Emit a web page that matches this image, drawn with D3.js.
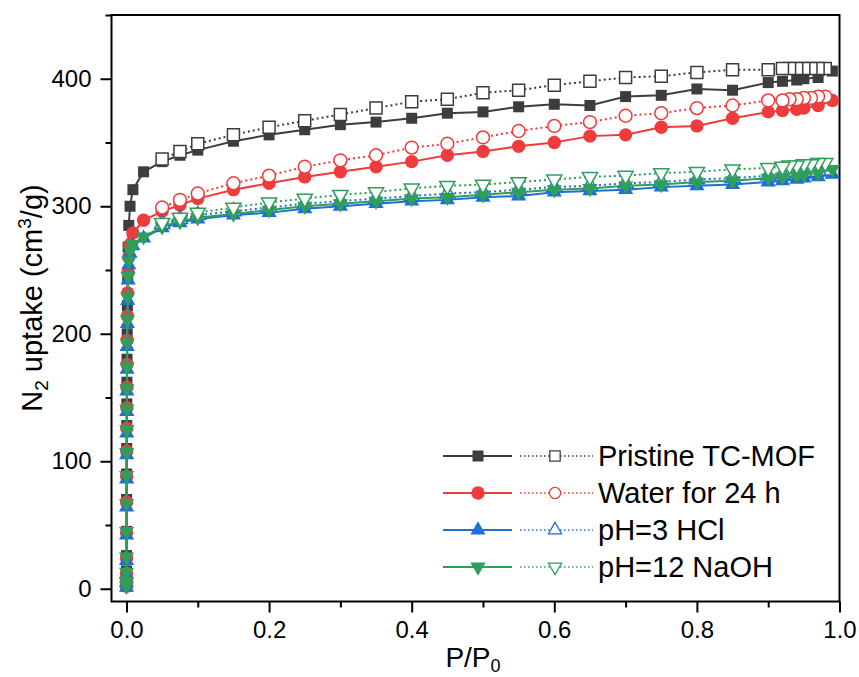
<!DOCTYPE html>
<html>
<head>
<meta charset="utf-8">
<script src="https://cdn.jsdelivr.net/npm/d3@7"></script>
<style>
  body { margin: 0; background: #fff; }
  text { font-family: "Liberation Sans", Arial, sans-serif; fill: #000; }
</style>
</head>
<body>
<div id="root"></div>
<script>
// relative pressure for adsorption (filled) and desorption (open) points
var adsP = [0.00001, 0.00002, 0.00004, 0.00006, 0.0001, 0.00015, 0.0002, 0.0003, 0.0004, 0.0005,
  0.0006, 0.0008, 0.001, 0.0013, 0.0017, 0.0023, 0.0032, 0.005, 0.009, 0.024,
  0.05, 0.075, 0.1, 0.15, 0.2, 0.25, 0.3, 0.35, 0.4, 0.45, 0.5, 0.55, 0.6, 0.65,
  0.7, 0.75, 0.8, 0.85, 0.9, 0.92, 0.94, 0.95, 0.97, 0.99];
var desP = [0.98, 0.97, 0.96, 0.95, 0.94, 0.93, 0.92, 0.9, 0.85, 0.8, 0.75, 0.7, 0.65,
  0.6, 0.55, 0.5, 0.45, 0.4, 0.35, 0.3, 0.25, 0.2, 0.15, 0.1, 0.075, 0.05];

var pristineAds = [2, 6, 14, 26, 45, 70, 90, 110, 128, 145, 162, 180, 200, 222, 245, 268, 285, 300, 313, 327,
  335, 340, 344, 351, 356, 360, 364, 366, 369, 373, 374, 378, 380, 379, 386, 387, 392, 391, 397, 398, 399, 400, 401, 406];
var pristineDes = [408, 408, 408, 408, 408, 408, 408, 407, 407, 405, 402, 401, 398,
  395, 391, 389, 384, 382, 377, 372, 367, 362, 356, 349, 343, 337];

var waterAds = [2, 6, 12, 24, 44, 68, 88, 108, 126, 142, 158, 176, 195, 214, 232, 248, 260, 270, 279, 289,
  296, 301, 306, 313, 318, 323, 327, 331, 335, 340, 343, 347, 350, 355, 356, 362, 363, 369, 374, 375, 376, 377, 379, 383];
var waterDes = [386, 386, 385, 385, 384, 384, 383, 383, 379, 377, 373, 371, 366,
  363, 359, 354, 349, 346, 340, 336, 331, 324, 318, 310, 305, 299];

var hclAds = [1, 5, 11, 22, 42, 64, 86, 105, 122, 139, 155, 172, 190, 208, 226, 242, 254, 263, 269, 275,
  283, 287, 290, 293, 295, 298, 300, 302, 304, 305, 307, 308, 311, 312, 313, 315, 316, 317, 319, 320, 321, 322, 323, 325];
var hclDes = [328, 328, 327, 327, 326, 326, 325, 324, 322, 321, 319, 318, 316,
  315, 313, 311, 310, 308, 306, 304, 302, 299, 296, 293, 290, 286];

var naohAds = [2, 6, 13, 25, 45, 67, 89, 107, 125, 141, 157, 174, 193, 211, 229, 245, 257, 265, 270, 276,
  284, 288, 291, 294, 297, 300, 302, 304, 306, 307, 309, 311, 313, 314, 316, 317, 319, 320, 322, 323, 324, 325, 326, 329];
var naohDes = [334, 334, 333, 333, 332, 332, 331, 330, 329, 327, 326, 324, 323,
  321, 319, 317, 316, 314, 311, 309, 306, 303, 299, 295, 291, 287];

var seriesNames = ['Pristine TC-MOF', 'Water for 24 h', 'pH=3 HCl', 'pH=12 NaOH'];
var xMajorTicks = [0, 0.2, 0.4, 0.6, 0.8, 1.0];
var xMinorTicks = [0.1, 0.3, 0.5, 0.7, 0.9];
var yMajorTicks = [0, 100, 200, 300, 400];
var yMinorTicks = [50, 150, 250, 350, 450];

var series = [
  { name: seriesNames[0], ads: pristineAds, des: pristineDes, color: '#3d3d3d', shape: d3.symbolSquare, rot: 0, fillSize: 121, openSize: 144 },
  { name: seriesNames[1], ads: waterAds, des: waterDes, color: '#ef3b3b', shape: d3.symbolCircle, rot: 0, fillSize: 140, openSize: 130 },
  { name: seriesNames[2], ads: hclAds, des: hclDes, color: '#1f6fd6', shape: d3.symbolTriangle, rot: 0, fillSize: 100, openSize: 100 },
  { name: seriesNames[3], ads: naohAds, des: naohDes, color: '#2f9e5a', shape: d3.symbolTriangle, rot: 180, fillSize: 100, openSize: 100 }
];

var margin = { top: 15, right: 19.5, bottom: 75.5, left: 111.5 },
  width = 859 - margin.left - margin.right,
  height = 677 - margin.top - margin.bottom;

var svg = d3.select('#root')
  .append('svg')
    .attr('width', 859)
    .attr('height', 677);

var g = svg.append('g')
  .attr('transform', 'translate(' + margin.left + ', ' + margin.top + ')');

var xScale = d3.scaleLinear()
  .domain([-0.021, 1.0])
  .range([0, width]);

var yScale = d3.scaleLinear()
  .domain([-10, 450])
  .range([height, 0]);

// axes
var xAxisCall = d3.axisBottom(xScale)
  .tickValues(xMajorTicks)
  .tickFormat(d3.format('.1f'))
  .tickSize(11)
  .tickPadding(8);

g.append('g')
  .attr('transform', 'translate(0, ' + height + ')')
  .call(xAxisCall);

g.append('g')
  .attr('transform', 'translate(0, ' + height + ')')
  .call(d3.axisBottom(xScale).tickValues(xMinorTicks).tickSize(6).tickFormat(''));

var yAxisCall = d3.axisLeft(yScale)
  .tickValues(yMajorTicks)
  .tickSize(11)
  .tickPadding(9);

g.append('g')
  .call(yAxisCall);

g.append('g')
  .call(d3.axisLeft(yScale).tickValues(yMinorTicks).tickSize(6).tickFormat(''));

g.selectAll('.domain').remove();
g.selectAll('.tick line').attr('stroke', '#000').attr('stroke-width', 2);
g.selectAll('.tick text')
  .attr('font-size', '24px')
  .attr('font-family', '"Liberation Sans", Arial, sans-serif')
  .attr('fill', '#000');

g.append('rect')
  .attr('width', width)
  .attr('height', height)
  .attr('fill', 'none')
  .attr('stroke', '#000')
  .attr('stroke-width', 2);

// axis titles
var xt = g.append('text')
  .attr('x', xScale(0.5) - 10)
  .attr('y', height + 65)
  .attr('font-size', '28px')
  .attr('text-anchor', 'middle');
xt.append('tspan').text('P/P');
xt.append('tspan').attr('font-size', '18px').attr('dy', 5).text('0');

var yt = g.append('text')
  .attr('transform', 'translate(' + (-70) + ', ' + yScale(228) + ') rotate(-90)')
  .attr('font-size', '29px')
  .attr('text-anchor', 'middle');
yt.append('tspan').text('N');
yt.append('tspan').attr('font-size', '19px').attr('dy', 6).text('2');
yt.append('tspan').attr('dy', -6).text(' uptake (cm');
yt.append('tspan').attr('font-size', '19px').attr('dy', -11).text('3');
yt.append('tspan').attr('dy', 11).text('/g)');

var line = d3.line()
  .x(d => xScale(d[0]))
  .y(d => yScale(d[1]));

var symbolPath = (s, size) => d3.symbol().type(s.shape).size(size)();

series.forEach(s => {
  var ads = adsP.map((p, i) => [p, s.ads[i]]);
  var des = desP.map((p, i) => [p, s.des[i]]);
  var sg = g.append('g');

  sg.append('path')
    .attr('d', line(ads))
    .attr('fill', 'none')
    .attr('stroke', s.color)
    .attr('stroke-width', 2);

  sg.append('path')
    .attr('d', line(des))
    .attr('fill', 'none')
    .attr('stroke', s.color)
    .attr('stroke-width', 2)
    .attr('stroke-dasharray', '2,3');

  sg.selectAll('.fill-pt')
    .data(ads)
    .enter()
    .append('path')
      .attr('d', symbolPath(s, s.fillSize))
      .attr('transform', d => 'translate(' + xScale(d[0]) + ',' + yScale(d[1]) + ') rotate(' + s.rot + ')')
      .attr('fill', s.color);

  sg.selectAll('.open-pt')
    .data(des)
    .enter()
    .append('path')
      .attr('d', symbolPath(s, s.openSize))
      .attr('transform', d => 'translate(' + xScale(d[0]) + ',' + yScale(d[1]) + ') rotate(' + s.rot + ')')
      .attr('fill', '#fff')
      .attr('stroke', s.color)
      .attr('stroke-width', 1.5);
});

// legend
var legend = svg.append('g')
  .attr('transform', 'translate(443, 456)');

series.forEach((s, i) => {
  var row = legend.append('g').attr('transform', 'translate(0, ' + i * 37 + ')');
  row.append('line')
    .attr('x1', 0).attr('x2', 69)
    .attr('stroke', s.color).attr('stroke-width', 2);
  row.append('path')
    .attr('d', symbolPath(s, s.fillSize))
    .attr('transform', 'translate(35, 0) rotate(' + s.rot + ')')
    .attr('fill', s.color);
  row.append('line')
    .attr('x1', 77).attr('x2', 150)
    .attr('stroke', s.color).attr('stroke-width', 1.5)
    .attr('stroke-dasharray', '1.5,2.5');
  row.append('path')
    .attr('d', symbolPath(s, s.openSize * 0.75))
    .attr('transform', 'translate(112, 0) rotate(' + s.rot + ')')
    .attr('fill', '#fff')
    .attr('stroke', s.color)
    .attr('stroke-width', 1.3);
  row.append('text')
    .attr('x', 155)
    .attr('y', 10)
    .attr('font-size', '29px')
    .text(s.name);
});
</script>
</body>
</html>
